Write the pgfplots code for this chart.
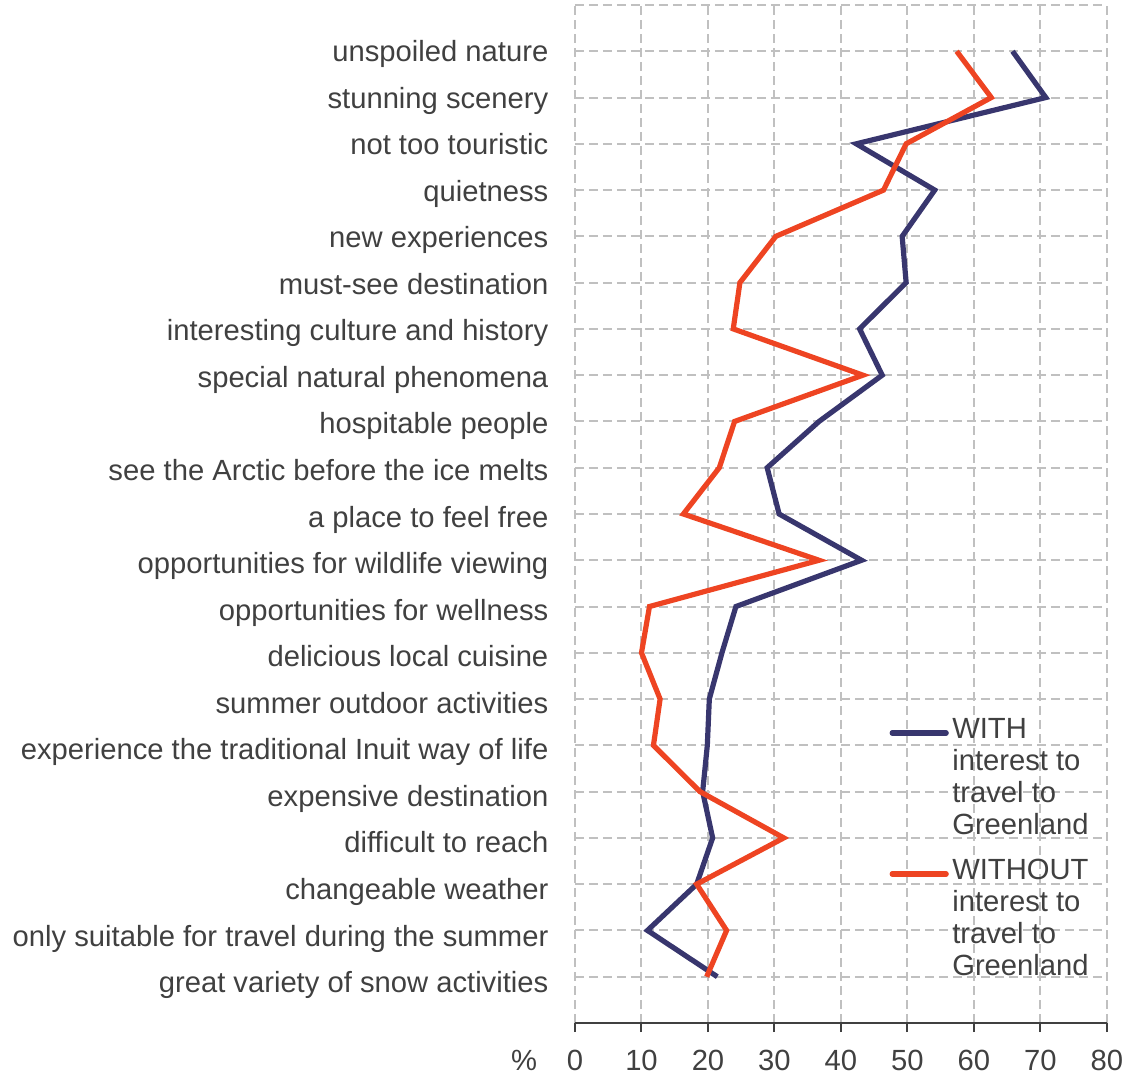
\documentclass[border=0pt]{standalone}
\usepackage{fontspec}
\setmainfont{Liberation Sans}
\usepackage{pgfplots}
\pgfplotsset{compat=1.18}
\definecolor{navy}{HTML}{38366E}
\definecolor{orng}{HTML}{EE4422}
\definecolor{txt}{HTML}{404040}
\definecolor{gridc}{HTML}{C0C0C0}
\newcommand{\lf}{\fontsize{14.6}{16}\selectfont}
\begin{document}
\begin{tikzpicture}
\begin{axis}[
  scale only axis, width=266pt, height=509pt,
  xmin=0, xmax=80, ymin=0, ymax=22,
  xtick={0,10,...,80}, ytick={1,...,22},
  yticklabels={great variety of snow activities,
    only suitable for travel during the summer,
    changeable weather,
    difficult to reach,
    expensive destination,
    experience the traditional Inuit way of life,
    summer outdoor activities,
    delicious local cuisine,
    opportunities for wellness,
    opportunities for wildlife viewing,
    a place to feel free,
    see the Arctic before the ice melts,
    hospitable people,
    special natural phenomena,
    interesting culture and history,
    must-see destination,
    new experiences,
    quietness,
    not too touristic,
    stunning scenery,
    unspoiled nature,
    {}},
  axis x line*=bottom, axis y line*=left,
  y axis line style={draw=none},
  x axis line style={txt, line width=1pt},
  xmajorgrids, ymajorgrids,
  grid style={gridc, line width=1pt, dash pattern=on 4.5pt off 2.5pt},
  ytick style={draw=none},
  xtick style={txt, line width=1pt},
  tick align=outside, major tick length=4.5pt,
  ticklabel style={font=\lf, text=txt},
  /pgf/number format/assume math mode=true,
  yticklabel style={anchor=base east, xshift=-5.3pt, yshift={-5.1pt-(20-\ticknum)*0.1425pt}},
  xticklabel style={anchor=base, yshift=-19.35pt},
  legend style={at={(rel axis cs:0.5906,0.301)}, anchor=north west, draw=none, fill=none,
    inner sep=0pt, font=\lf, text=txt, row sep=0pt, column sep=1.75pt,
    nodes={inner sep=0pt, text height=11pt, text depth=5pt}},
  legend cell align=left,
  legend image code/.code={\draw[#1, line cap=round] (0pt,0pt) -- (27pt,0pt);},
]
\addplot[navy, line width=2.6pt] coordinates {
  (65.8,21) (70.8,20) (42.3,19) (54.1,18) (49.2,17) (49.8,16) (42.8,15)
  (46.2,14) (36.7,13) (28.9,12) (30.7,11) (43.1,10) (24.2,9) (22.1,8)
  (20.2,7) (19.9,6) (19.2,5) (20.7,4) (18.3,3) (10.9,2) (21.4,1)};
\addlegendentry{WITH}
\addlegendimage{empty legend}
\addlegendentry{interest to}
\addlegendimage{empty legend}
\addlegendentry{travel to}
\addlegendimage{empty legend}
\addlegendentry[text depth=11.5pt]{Greenland}
\addplot[orng, line width=2.6pt] coordinates {
  (57.4,21) (62.6,20) (49.8,19) (46.4,18) (30.2,17) (24.8,16) (23.8,15)
  (43.3,14) (24.0,13) (21.7,12) (16.3,11) (36.7,10) (11.2,9) (10.0,8)
  (12.8,7) (11.8,6) (18.8,5) (31.4,4) (18.3,3) (22.8,2) (19.8,1)};
\addlegendentry{WITHOUT}
\addlegendimage{empty legend}
\addlegendentry{interest to}
\addlegendimage{empty legend}
\addlegendentry{travel to}
\addlegendimage{empty legend}
\addlegendentry{Greenland}
\coordinate (bl) at (rel axis cs:0,0);
\end{axis}
\node[font=\lf, text=txt, anchor=base] at ([shift={(-25.5pt,-23.85pt)}]bl) {\%};
\pgfresetboundingbox
\path[use as bounding box] (bl) ++(-287.5pt,-26pt) rectangle ++(562pt,537.5pt);
\end{tikzpicture}
\end{document}
